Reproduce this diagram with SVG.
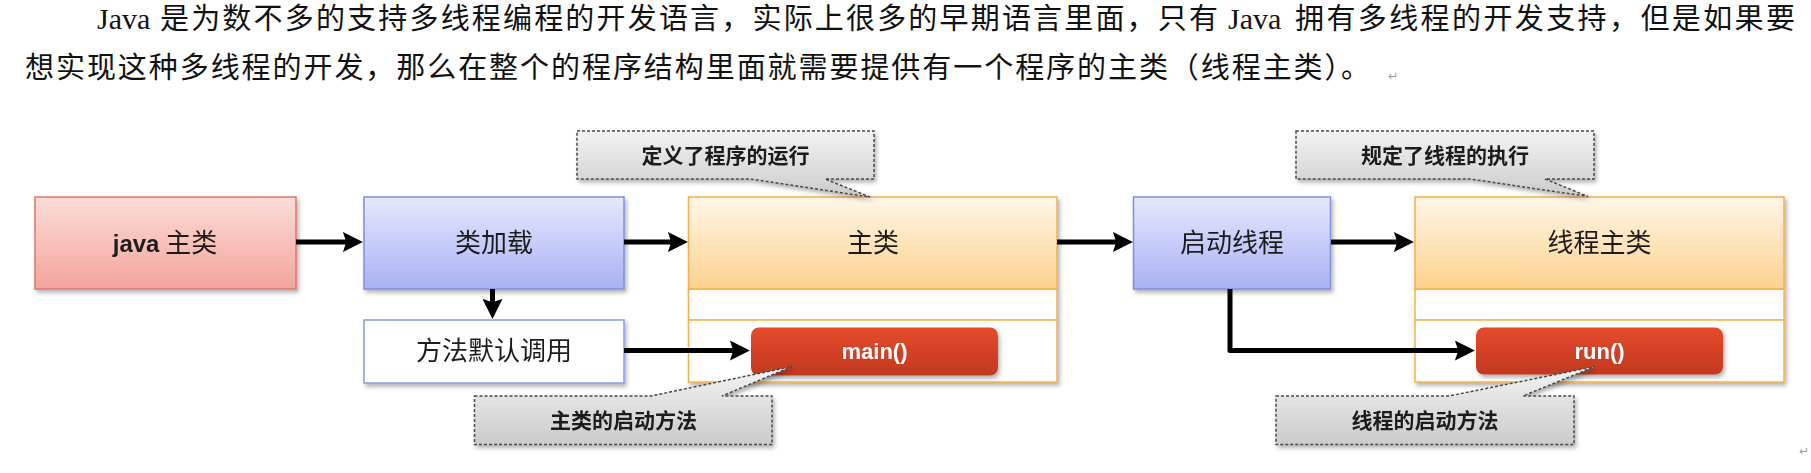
<svg xmlns="http://www.w3.org/2000/svg" width="1811" height="473" viewBox="0 0 1811 473">
<defs>
<style>
.para{font-family:"Liberation Serif","Noto Sans CJK SC",serif;font-size:29px;fill:#111;}
.latin{font-family:"Liberation Serif",serif;font-size:30px;fill:#111;}
.lbl{font-family:"Noto Sans CJK SC",sans-serif;font-size:26px;fill:#1e1e1e;text-anchor:middle;}
.call{font-family:"Noto Sans CJK SC",sans-serif;font-size:21px;font-weight:bold;fill:#1a1a1a;text-anchor:middle;}
.btn{font-family:"Liberation Sans",Arial,sans-serif;font-size:22px;font-weight:bold;fill:#fff;text-anchor:middle;}
.conn{fill:none;stroke:#000;stroke-width:5;}
.callout{fill:url(#gGray);stroke:#4a4a4a;stroke-width:1.5;stroke-dasharray:3 2;}
.blue{fill:url(#gBlue);stroke:#7f8fe0;stroke-width:1.5;}
.orangeH{fill:url(#gOrange);stroke:#f5b04d;stroke-width:1.5;}
.orangeW{fill:#fff;stroke:#f5b04d;stroke-width:1.5;}
.redBtn{fill:url(#gBtn);}
.mark{font-family:"DejaVu Sans",sans-serif;font-size:12px;fill:#9a9a9a;}
</style>
<linearGradient id="gRed" x1="0" y1="0" x2="0" y2="1">
<stop offset="0" stop-color="#fcdcd8"/><stop offset="1" stop-color="#f4a49d"/>
</linearGradient>
<linearGradient id="gBlue" x1="0" y1="0" x2="0" y2="1">
<stop offset="0" stop-color="#e6e8fd"/><stop offset="1" stop-color="#a8b1f4"/>
</linearGradient>
<linearGradient id="gOrange" x1="0" y1="0" x2="0" y2="1">
<stop offset="0" stop-color="#fff6e8"/><stop offset="1" stop-color="#fdd18c"/>
</linearGradient>
<linearGradient id="gBtn" x1="0" y1="0" x2="0" y2="1">
<stop offset="0" stop-color="#e54a2c"/><stop offset="1" stop-color="#c2391f"/>
</linearGradient>
<linearGradient id="gGray" x1="0" y1="0" x2="0" y2="1">
<stop offset="0" stop-color="#f3f3f3"/><stop offset="1" stop-color="#cbcbcb"/>
</linearGradient>
<filter id="shadow" x="-10%" y="-20%" width="125%" height="150%">
<feDropShadow dx="2" dy="3" stdDeviation="2" flood-color="#000" flood-opacity="0.3"/>
</filter>
<marker id="arrow" markerUnits="userSpaceOnUse" markerWidth="20" markerHeight="20" viewBox="0 0 18 18" refX="10" refY="9" orient="auto">
<path d="M0,0 L18,9 L0,18 L3,9 Z" fill="#000"/>
</marker>
</defs>
<rect width="1811" height="473" fill="#fff"/>

<g id="paragraph">
<text class="latin" x="97" y="28.5">Java</text>
<text class="para" x="160" y="28.5" textLength="1058" lengthAdjust="spacing">是为数不多的支持多线程编程的开发语言，实际上很多的早期语言里面，只有</text>
<text class="latin" x="1228" y="28.5">Java</text>
<text class="para" x="1295" y="28.5" textLength="500" lengthAdjust="spacing">拥有多线程的开发支持，但是如果要</text>
<text class="para" x="25" y="78" textLength="1345" lengthAdjust="spacing">想实现这种多线程的开发，那么在整个的程序结构里面就需要提供有一个程序的主类（线程主类）。</text>
<text class="mark" x="1388" y="80">↵</text>
<text class="mark" x="1799" y="455">↵</text>
</g>

<g id="node-java" filter="url(#shadow)">
<rect x="35" y="197" width="261" height="92" fill="url(#gRed)" stroke="#e0766d" stroke-width="1.5"/>
<text class="lbl" x="165" y="252"><tspan font-family="Liberation Sans, Arial, sans-serif" font-weight="bold" font-size="24">java</tspan> 主类</text>
</g>

<g id="node-load" filter="url(#shadow)">
<rect class="blue" x="364" y="197" width="260" height="92"/>
<text class="lbl" x="494" y="252">类加载</text>
</g>

<g id="node-method" filter="url(#shadow)">
<rect x="364" y="320" width="260" height="63" fill="#fff" stroke="#8a9ae6" stroke-width="1.5"/>
<text class="lbl" x="494" y="360">方法默认调用</text>
</g>

<g id="node-mainclass" filter="url(#shadow)">
<rect class="orangeW" x="688.5" y="289" width="368.5" height="31"/>
<rect class="orangeW" x="688.5" y="320" width="368.5" height="62"/>
<rect class="orangeH" x="688.5" y="197" width="368.5" height="92"/>
<text class="lbl" x="873" y="252">主类</text>
</g>

<g id="node-main" filter="url(#shadow)">
<rect class="redBtn" x="751" y="327.5" width="247" height="48" rx="8"/>
<text class="btn" x="874.5" y="359">main()</text>
</g>

<g id="node-start" filter="url(#shadow)">
<rect class="blue" x="1133.5" y="197" width="197" height="92"/>
<text class="lbl" x="1232" y="252">启动线程</text>
</g>

<g id="node-threadclass" filter="url(#shadow)">
<rect class="orangeW" x="1415" y="289" width="369" height="31"/>
<rect class="orangeW" x="1415" y="320" width="369" height="62"/>
<rect class="orangeH" x="1415" y="197" width="369" height="92"/>
<text class="lbl" x="1599.5" y="252">线程主类</text>
</g>

<g id="node-run" filter="url(#shadow)">
<rect class="redBtn" x="1476" y="327.5" width="247" height="47" rx="8"/>
<text class="btn" x="1599.5" y="359">run()</text>
</g>

<g id="connectors">
<line class="conn" x1="296" y1="242" x2="354" y2="242" marker-end="url(#arrow)"/>
<line class="conn" x1="624" y1="242" x2="679" y2="242" marker-end="url(#arrow)"/>
<line class="conn" x1="1057" y1="242" x2="1124" y2="242" marker-end="url(#arrow)"/>
<line class="conn" x1="1331" y1="242" x2="1405" y2="242" marker-end="url(#arrow)"/>
<line class="conn" x1="492.5" y1="289" x2="492.5" y2="310" marker-end="url(#arrow)"/>
<line class="conn" x1="624" y1="350.5" x2="741" y2="350.5" marker-end="url(#arrow)"/>
<path class="conn" d="M1230,289 V350.5 H1466" stroke-linejoin="round" marker-end="url(#arrow)"/>
</g>

<g id="callout-define" filter="url(#shadow)">
<path class="callout" d="M577,131 H874 V179 H825 L870,197 L750,179 H577 Z"/>
<text class="call" x="725.5" y="163">定义了程序的运行</text>
</g>

<g id="callout-rule" filter="url(#shadow)">
<path class="callout" d="M1296,131 H1594 V179 H1545 L1588,196.5 L1470,179 H1296 Z"/>
<text class="call" x="1445" y="163">规定了线程的执行</text>
</g>

<g id="callout-mainstart" filter="url(#shadow)">
<path class="callout" d="M474.5,396 H651 L792,366.5 L722,396 H772 V444.5 H474.5 Z"/>
<text class="call" x="623.5" y="428">主类的启动方法</text>
</g>

<g id="callout-threadstart" filter="url(#shadow)">
<path class="callout" d="M1276,396 H1449 L1595,366.5 L1523,396 H1574 V444.5 H1276 Z"/>
<text class="call" x="1425" y="428">线程的启动方法</text>
</g>
</svg>
